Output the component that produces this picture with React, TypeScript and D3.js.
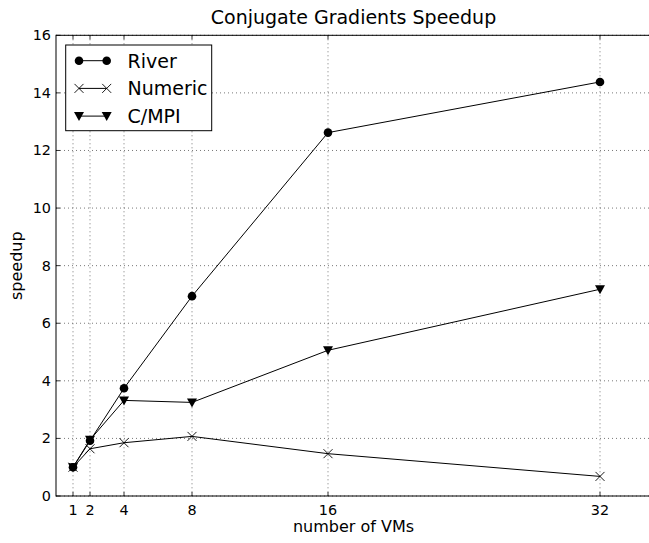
import React from "react";
import * as d3 from "d3";

const vms = [1, 2, 4, 8, 16, 32];
const river = [1.0, 1.92, 3.74, 6.94, 12.62, 14.38];
const numeric = [1.0, 1.64, 1.85, 2.07, 1.47, 0.68];
const cmpi = [1.0, 1.95, 3.32, 3.25, 5.06, 7.18];
const yTicks = [0, 2, 4, 6, 8, 10, 12, 14, 16];
const xTicks = vms;
const title = "Conjugate Gradients Speedup";
const xLabel = "number of VMs";
const yLabel = "speedup";

const W = 649, H = 543;
const L = 56, T = 35.3, R = 651, B = 496;
const font = "DejaVu Sans, sans-serif";

export default function App() {
  const x = d3.scaleLinear().domain([0, 35]).range([L, R]);
  const y = d3.scaleLinear().domain([0, 16]).range([B, T]);
  const line = d3.line<number>().x((_, i) => x(vms[i])).y((d) => y(d));

  const circle = (cx: number, cy: number, k: string) => (
    <circle key={k} cx={cx} cy={cy} r={4.3} fill="black" />
  );
  const cross = (cx: number, cy: number, k: string) => (
    <path key={k} d={`M${cx - 4.5},${cy - 4.5}L${cx + 4.5},${cy + 4.5}M${cx - 4.5},${cy + 4.5}L${cx + 4.5},${cy - 4.5}`} stroke="black" strokeWidth={0.9} fill="none" />
  );
  const tri = (cx: number, cy: number, k: string) => (
    <path key={k} d={`M${cx - 5},${cy - 4}L${cx + 5},${cy - 4}L${cx},${cy + 5}Z`} fill="black" />
  );

  const series = [
    { name: "River", data: river, m: circle },
    { name: "Numeric", data: numeric, m: cross },
    { name: "C/MPI", data: cmpi, m: tri },
  ];

  return (
    <svg width={W} height={H} style={{ position: "absolute", left: 0, top: 0, background: "white" }} fontFamily={font}>
      <rect x={0} y={0} width={W} height={H} fill="white" />
      {xTicks.map((t) => (
        <line key={"gx" + t} x1={x(t)} x2={x(t)} y1={T} y2={B} stroke="#555" strokeWidth={0.8} strokeDasharray="1,3" />
      ))}
      {yTicks.map((t) => (
        <line key={"gy" + t} x1={L} x2={R} y1={y(t)} y2={y(t)} stroke="#555" strokeWidth={0.8} strokeDasharray="1,3" />
      ))}
      {xTicks.map((t) => (
        <g key={"tx" + t}>
          <line x1={x(t)} x2={x(t)} y1={B} y2={B - 4} stroke="black" strokeWidth={0.8} />
          <line x1={x(t)} x2={x(t)} y1={T} y2={T + 4} stroke="black" strokeWidth={0.8} />
          <text x={x(t)} y={B + 18.5} textAnchor="middle" fontSize={14.4}>{t}</text>
        </g>
      ))}
      {yTicks.map((t) => (
        <g key={"ty" + t}>
          <line x1={L} x2={L + 4} y1={y(t)} y2={y(t)} stroke="black" strokeWidth={0.8} />
          <text x={L - 5} y={y(t) + 5} textAnchor="end" fontSize={14.4}>{t}</text>
        </g>
      ))}
      {series.map((s) => (
        <g key={s.name}>
          <path d={line(s.data) || ""} fill="none" stroke="black" strokeWidth={1} />
          {s.data.map((v, i) => s.m(x(vms[i]), y(v), s.name + i))}
        </g>
      ))}
      <rect x={L} y={T} width={R - L} height={B - T} fill="none" stroke="black" strokeWidth={1} />
      <rect x={65.7} y={45} width={146} height={85.7} fill="white" stroke="black" strokeWidth={1} />
      {series.map((s, i) => {
        const ly = 60.7 + i * 27.7;
        return (
          <g key={"lg" + s.name}>
            <line x1={79} x2={106.7} y1={ly} y2={ly} stroke="black" strokeWidth={1} />
            {s.m(79, ly, "a" + i)}
            {s.m(106.7, ly, "b" + i)}
            <text x={127.5} y={ly + 6.8} fontSize={19}>{s.name}</text>
          </g>
        );
      })}
      <text x={(L + R) / 2} y={24} textAnchor="middle" fontSize={19}>{title}</text>
      <text x={(L + R) / 2} y={532} textAnchor="middle" fontSize={16}>{xLabel}</text>
      <text transform={`translate(21.5,${(T + B) / 2}) rotate(-90)`} textAnchor="middle" fontSize={16}>{yLabel}</text>
    </svg>
  );
}
